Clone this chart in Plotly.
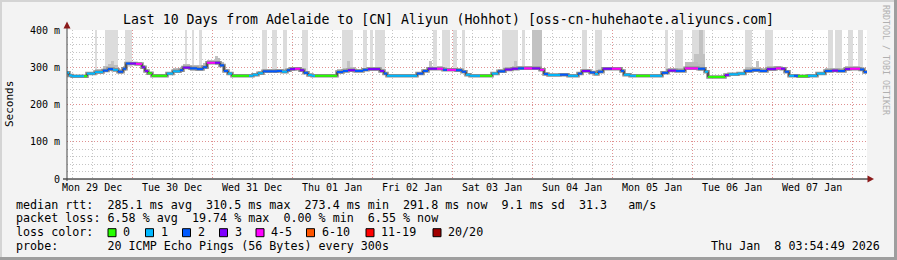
import pandas as pd
import plotly.graph_objects as go

# ---------------- data ----------------
start = pd.Timestamp("2025-12-29 04:30")
end_hour = 240.0

# median RTT segments: start hour (from graph start), median ms, loss level index, smoke spread up/down (ms)
seg_hours = [0.0, 0.6, 1.5, 5.1, 6.0, 8.4, 10.8, 12.3, 13.8, 15.3, 16.8, 17.7, 18.9, 20.7, 22.5, 23.4, 24.3, 25.5,
             30.0, 31.8, 33.9, 34.8, 36.9, 39.0, 40.8, 42.0, 44.4, 45.9, 47.1, 48.3, 49.5, 54.6, 55.8, 57.3, 58.8,
             63.0, 64.5, 66.0, 66.9, 68.4, 69.9, 71.1, 72.3, 73.5, 74.4, 81.0, 82.8, 84.3, 86.4, 88.8, 90.3, 93.9,
             95.1, 96.0, 105.0, 106.8, 108.3, 111.0, 112.8, 114.0, 116.7, 118.5, 119.7, 120.9, 123.9, 127.5, 129.3,
             131.4, 133.5, 135.3, 137.1, 139.5, 141.9, 143.1, 144.3, 147.9, 150.3, 153.3, 154.5, 156.9, 158.4, 159.3,
             160.8, 163.5, 166.2, 167.1, 168.9, 170.7, 174.9, 178.5, 180.3, 182.7, 185.4, 189.3, 191.4, 192.3, 197.4,
             198.6, 201.3, 203.4, 205.5, 207.9, 210.0, 212.7, 214.2, 215.4, 216.6, 218.1, 219.3, 222.3, 225.0, 227.4,
             229.5, 231.3, 233.4, 234.9, 237.9, 239.1]
seg_median = [285, 278, 276, 276, 283, 287, 291, 295, 293, 288, 296, 310, 310, 309, 300, 290, 284, 277,
              283, 289, 292, 299, 297, 295, 300, 312, 312, 305, 290, 283, 277, 277, 280, 284, 289,
              290, 288, 292, 295, 296, 292, 285, 279, 277, 277, 287, 290, 292, 290, 293, 295, 290,
              283, 277, 283, 290, 296, 296, 293, 293, 292, 288, 280, 277, 277, 283, 289,
              294, 296, 297, 297, 297, 293, 282, 279, 280, 277, 283, 290, 286, 282, 288,
              296, 296, 290, 280, 277, 277, 277, 285, 291, 290, 297, 296, 288, 274, 279,
              281, 283, 290, 292, 290, 295, 297, 296, 288, 277, 277, 276, 277, 283, 290,
              291, 290, 295, 296, 294, 287]
seg_loss = [1, 1, 1, 0, 1, 1, 2, 2, 1, 2, 2, 2, 3, 4, 3, 3, 0, 0,
            1, 1, 2, 3, 2, 2, 2, 4, 3, 2, 2, 1, 0, 1, 1, 1, 2,
            2, 1, 2, 3, 4, 3, 2, 1, 1, 0, 2, 2, 3, 2, 2, 3, 3,
            2, 1, 2, 2, 3, 4, 2, 4, 2, 2, 1, 1, 0, 1, 2,
            3, 3, 2, 4, 3, 4, 2, 1, 2, 1, 2, 3, 2, 1, 2,
            3, 4, 2, 1, 1, 0, 1, 2, 3, 2, 4, 2, 1, 0, 3,
            1, 1, 2, 2, 2, 3, 4, 3, 2, 1, 2, 0, 1, 1, 2,
            3, 2, 3, 4, 2, 2]
seg_up = [6, 4, 2, 2, 5, 7, 12, 14, 12, 8, 8, 5, 5, 6, 6, 5, 4, 2,
          5, 8, 10, 10, 10, 10, 12, 8, 14, 8, 6, 4, 2, 2, 3, 5, 6,
          6, 6, 6, 6, 6, 6, 5, 3, 2, 2, 8, 8, 8, 6, 6, 6, 5,
          4, 2, 5, 6, 6, 8, 8, 6, 6, 5, 3, 2, 2, 4, 6,
          8, 8, 6, 6, 6, 6, 4, 3, 4, 2, 5, 6, 5, 4, 6,
          6, 6, 5, 3, 2, 2, 3, 6, 8, 8, 16, 12, 5, 2, 3,
          3, 5, 12, 10, 8, 8, 6, 6, 5, 2, 2, 2, 2, 5, 8,
          8, 8, 8, 8, 6, 5]
seg_dn = [4, 2, 2, 2, 3, 4, 5, 6, 6, 5, 5, 4, 4, 4, 5, 4, 3, 2,
          3, 5, 5, 5, 6, 6, 6, 4, 5, 5, 4, 3, 2, 2, 2, 3, 4,
          4, 4, 4, 4, 4, 4, 3, 2, 2, 2, 4, 4, 4, 4, 4, 4, 4,
          3, 2, 3, 4, 4, 4, 4, 4, 4, 3, 2, 2, 2, 3, 4,
          4, 4, 4, 4, 4, 4, 3, 2, 3, 2, 3, 4, 4, 3, 4,
          4, 4, 4, 2, 2, 2, 2, 4, 4, 4, 5, 5, 4, 2, 2,
          2, 3, 5, 5, 4, 4, 4, 4, 3, 2, 2, 2, 2, 3, 4,
          4, 4, 4, 4, 4, 3]

# outlier pings (smoke spikes): start hour, end hour, base ms, top ms
spike_start = [8.4, 11.4, 17.4, 35.4, 37.5, 39.6, 58.5, 61.5, 64.8, 70.5, 82.5, 88.8, 90.9, 92.4, 109.8, 112.5,
               115.8, 118.5, 130.5, 136.5, 154.5, 158.4, 179.4, 182.4, 187.5, 203.4, 209.4, 228.3, 230.4,
               234.3, 237.3]
spike_end = [9.0, 15.3, 19.5, 36.0, 38.1, 40.5, 60.0, 63.0, 66.0, 72.3, 85.8, 90.0, 91.8, 95.4, 111.0, 114.9,
             117.0, 119.4, 135.3, 137.4, 156.0, 160.5, 180.3, 184.8, 191.4, 205.5, 211.8, 229.8, 232.5,
             235.8, 238.8]
spike_base = [288, 292, 300, 295, 295, 296, 290, 290, 290, 288, 290, 292, 294, 292, 296, 292,
              292, 288, 294, 296, 290, 288, 290, 292, 296, 292, 294, 291, 291, 296, 294]
spike_top = [400] * 31

dark_start = [13.2, 44.4, 84.0, 108.6, 139.5, 134.1, 188.1, 189.6, 206.7]
dark_end = [14.1, 45.3, 84.9, 109.5, 142.5, 135.0, 191.4, 190.8, 207.6]
dark_base = [300, 312, 295, 298, 300, 300, 305, 310, 300]
dark_top = [318, 330, 316, 318, 400, 316, 335, 400, 316]

loss_colors = ["#26ff00", "#00b8ff", "#0059ff", "#7e00ff", "#ff00ff", "#ff5500", "#ff0000", "#a10000"]
loss_labels = ["0", "1", "2", "3", "4-5", "6-10", "11-19", "20/20"]

day_labels = ["Mon 29 Dec", "Tue 30 Dec", "Wed 31 Dec", "Thu 01 Jan", "Fri 02 Jan",
              "Sat 03 Jan", "Sun 04 Jan", "Mon 05 Jan", "Tue 06 Jan", "Wed 07 Jan"]
day_noons = pd.date_range("2025-12-29 12:00", periods=10, freq="D")
midnights = pd.date_range("2025-12-30 00:00", periods=10, freq="D")

y_ticks = [0, 100, 200, 300, 400]
y_ticktext = ["0", "100 m", "200 m", "300 m", "400 m"]

title = "Last 10 Days from Adelaide to [CN] Aliyun (Hohhot) [oss-cn-huhehaote.aliyuncs.com]"
legend_rtt = "median rtt:  285.1 ms avg  310.5 ms max  273.4 ms min  291.8 ms now  9.1 ms sd  31.3   am/s"
legend_loss = "packet loss: 6.58 % avg  19.74 % max  0.00 % min  6.55 % now"
legend_probe = "probe:       20 ICMP Echo Pings (56 Bytes) every 300s"
stamp = "Thu Jan  8 03:54:49 2026"

# ---------------- build ----------------
H = pd.Timedelta(hours=1)
t0 = [start + h * H for h in seg_hours]
t1 = t0[1:] + [start + end_hour * H]
MS = 3600 * 1000

fig = go.Figure()

# outlier spikes (light)
fig.add_trace(go.Bar(
    x=[start + (a + b) / 2 * H for a, b in zip(spike_start, spike_end)],
    base=spike_base,
    y=[t - b for t, b in zip(spike_top, spike_base)],
    width=[(b - a) * MS for a, b in zip(spike_start, spike_end)],
    marker=dict(color="#dcdcdc", line=dict(width=0)), hoverinfo="skip"))
fig.add_trace(go.Bar(
    x=[start + (a + b) / 2 * H for a, b in zip(dark_start, dark_end)],
    base=dark_base,
    y=[t - b for t, b in zip(dark_top, dark_base)],
    width=[(b - a) * MS for a, b in zip(dark_start, dark_end)],
    marker=dict(color="#c2c2c2", line=dict(width=0)), hoverinfo="skip"))

# smoke band around median
fig.add_trace(go.Bar(
    x=[a + (b - a) / 2 for a, b in zip(t0, t1)],
    base=[m - d for m, d in zip(seg_median, seg_dn)],
    y=[u + d for u, d in zip(seg_up, seg_dn)],
    width=[(b - a).total_seconds() * 1000 for a, b in zip(t0, t1)],
    marker=dict(color="#bcbcbc", line=dict(width=0)), hoverinfo="skip"))

# dark core + joins
xs = t0 + [t1[-1]]
ys = seg_median + [seg_median[-1]]
fig.add_trace(go.Scatter(x=xs, y=ys, mode="lines", line=dict(shape="hv", color="#8c8c8c", width=3.5),
                         hoverinfo="skip"))
fig.add_trace(go.Scatter(x=xs, y=ys, mode="lines", line=dict(shape="hv", color="#202020", width=1),
                         hoverinfo="skip"))

# colored median by loss
for lv, col in enumerate(loss_colors):
    lx, ly = [], []
    for a, b, m, l in zip(t0, t1, seg_median, seg_loss):
        if l == lv:
            lx += [a, b, None]
            ly += [m, m, None]
    if lx:
        fig.add_trace(go.Scatter(x=lx, y=ly, mode="lines", line=dict(color=col, width=2),
                                 hoverinfo="skip"))

L, R, T, B = 67, 867, 30, 179
W, HH = R - L, B - T


def px(x):
    return (x - L) / W


def py(y):
    return (B - y) / HH


MONO = "DejaVu Sans Mono"
ann = []
ann.append(dict(text=title, x=px(448), y=py(19), xref="paper", yref="paper", showarrow=False,
                font=dict(family=MONO, size=13.2, color="#000"), xanchor="center", yanchor="middle"))
for d, lab in zip(day_noons, day_labels):
    ann.append(dict(text=lab, x=d, y=py(187), xref="x", yref="paper", showarrow=False,
                    font=dict(family=MONO, size=10, color="#000"), xanchor="center", yanchor="middle"))
ann.append(dict(text="Seconds", x=px(10), y=py(104), xref="paper", yref="paper", showarrow=False,
                textangle=-90, font=dict(family=MONO, size=11, color="#000"), xanchor="center",
                yanchor="middle"))
ann.append(dict(text="RRDTOOL / TOBI OETIKER", x=px(886), y=py(60), xref="paper", yref="paper",
                showarrow=False, textangle=90, font=dict(family=MONO, size=8.3, color="#b0b0b0"),
                xanchor="center", yanchor="middle"))
LF = dict(family=MONO, size=11.7, color="#000")
for txt, yy in [(legend_rtt, 204.7), (legend_loss, 218.3), ("loss color:", 232.3), (legend_probe, 246)]:
    ann.append(dict(text=txt.replace(" ", "&nbsp;"), x=px(14), y=py(yy), xref="paper", yref="paper",
                    showarrow=False, font=LF, xanchor="left", yanchor="middle"))
ann.append(dict(text=stamp.replace(" ", "&nbsp;"), x=px(882), y=py(246), xref="paper", yref="paper",
                showarrow=False, font=LF, xanchor="right", yanchor="middle"))

box_x = [108, 145.5, 182.5, 219.5, 256, 306.5, 366, 433]
shapes = []
for bx, col, lab in zip(box_x, loss_colors, loss_labels):
    shapes.append(dict(type="rect", xref="paper", yref="paper", x0=px(bx), x1=px(bx + 8),
                       y0=py(236.7), y1=py(228.7), fillcolor=col, line=dict(color="#000", width=1)))
    ann.append(dict(text=lab, x=px(bx + 13), y=py(232.3), xref="paper", yref="paper", showarrow=False,
                    font=LF, xanchor="left", yanchor="middle"))

# borders
shapes += [
    dict(type="rect", xref="paper", yref="paper", x0=px(0), x1=px(897), y0=py(0), y1=py(2),
         fillcolor="#d4d4d4", line=dict(width=0)),
    dict(type="rect", xref="paper", yref="paper", x0=px(0), x1=px(2), y0=py(0), y1=py(260),
         fillcolor="#d4d4d4", line=dict(width=0)),
    dict(type="rect", xref="paper", yref="paper", x0=px(0), x1=px(897), y0=py(257), y1=py(260),
         fillcolor="#9e9e9e", line=dict(width=0)),
    dict(type="rect", xref="paper", yref="paper", x0=px(894), x1=px(897), y0=py(0), y1=py(260),
         fillcolor="#9e9e9e", line=dict(width=0)),
    # axis lines
    dict(type="line", xref="paper", yref="paper", x0=px(63), x1=px(868), y0=0, y1=0,
         line=dict(color="#000", width=1)),
    dict(type="line", xref="paper", yref="paper", x0=0, x1=0, y0=py(181), y1=py(28),
         line=dict(color="#444", width=1)),
    dict(type="path", xref="paper", yref="paper",
         path=f"M {px(63.5)},{py(28.5)} L {px(70.5)},{py(28.5)} L {px(67)},{py(21.5)} Z",
         fillcolor="#8b1a1a", line=dict(width=0)),
    dict(type="path", xref="paper", yref="paper",
         path=f"M {px(867.5)},{py(175.5)} L {px(867.5)},{py(182.5)} L {px(874)},{py(179)} Z",
         fillcolor="#8b1a1a", line=dict(width=0)),
]

fig.update_layout(
    width=897, height=260, autosize=False,
    margin=dict(l=L, r=897 - R, t=T, b=260 - B, pad=0),
    paper_bgcolor="#f3f3f3", plot_bgcolor="#ffffff",
    showlegend=False, barmode="overlay", bargap=0,
    annotations=ann, shapes=shapes,
    xaxis=dict(type="date", range=[start, start + end_hour * H], tickvals=list(midnights),
               ticktext=[""] * len(midnights), showticklabels=False, ticks="",
               showgrid=True, gridcolor="rgba(240,110,110,0.6)", gridwidth=1, griddash="1px,2px",
               minor=dict(dtick=6 * MS, tick0="2025-12-29 00:00", showgrid=True,
                          gridcolor="rgba(150,150,150,0.55)", gridwidth=1, griddash="1px,2px"),
               showline=False, zeroline=False, fixedrange=True),
    yaxis=dict(range=[0, 400], tickvals=y_ticks, ticktext=y_ticktext, ticks="",
               tickfont=dict(family=MONO, size=10, color="#000"), ticklabelstandoff=6,
               showgrid=True, gridcolor="rgba(240,110,110,0.6)", gridwidth=1, griddash="1px,2px",
               minor=dict(dtick=20, showgrid=True, gridcolor="rgba(150,150,150,0.55)", gridwidth=1,
                          griddash="1px,2px"),
               showline=False, zeroline=False, fixedrange=True),
)

fig.write_html("out.html", config={"displayModeBar": False})
